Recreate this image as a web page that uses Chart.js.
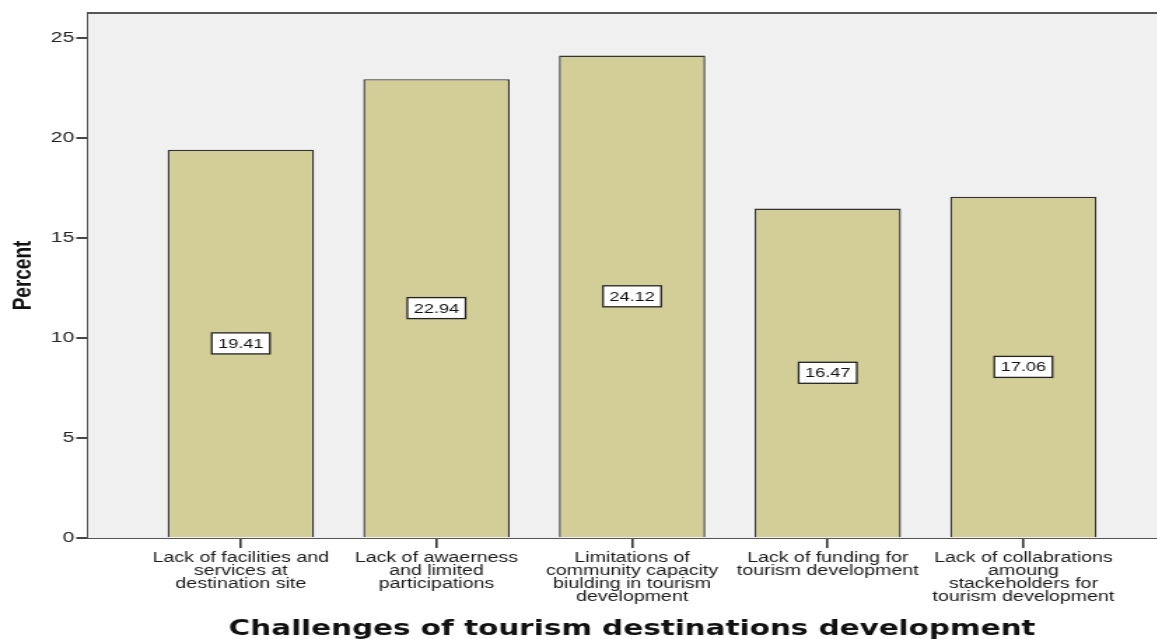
<!DOCTYPE html>
<html><head><meta charset="utf-8">
<script src="https://cdn.jsdelivr.net/npm/chart.js@4.4.1/dist/chart.umd.min.js"></script>
<style>
html,body{margin:0;padding:0;background:#fff;overflow:hidden;width:1157px;height:639px}
#wrap{width:840px;height:639px;transform:scaleX(1.4);transform-origin:0 0}
</style>
</head><body><div id="wrap"><canvas id="c"></canvas></div>
<script>
const categories = [
  ["Lack of facilities and","services at","destination site"],
  ["Lack of awaerness","and limited","participations"],
  ["Limitations of","community capacity","biulding in tourism","development"],
  ["Lack of funding for","tourism development"],
  ["Lack of collabrations","amoung","stackeholders for","tourism development"]
];
const percents = [19.41, 22.94, 24.12, 16.47, 17.06];
const yTicks = [0, 5, 10, 15, 20, 25];

const points = percents.map((v, i) => ({x: i, y: v}));

const frame = {
  id: 'frame',
  beforeDatasetsDraw(chart) {
    const {ctx, chartArea: a} = chart;
    ctx.save();
    ctx.fillStyle = '#f0f0f0';
    ctx.fillRect(a.left, a.top, a.right - a.left, a.bottom - a.top);
    ctx.strokeStyle = '#555';
    ctx.lineWidth = 2;
    ctx.beginPath(); ctx.moveTo(a.left, a.top); ctx.lineTo(a.right, a.top); ctx.stroke();
    ctx.restore();
  },
  afterDatasetsDraw(chart) {
    const {ctx} = chart;
    const meta = chart.getDatasetMeta(0);
    ctx.save();
    ctx.font = '13px "Liberation Sans", Arial, sans-serif';
    ctx.textAlign = 'center'; ctx.textBaseline = 'middle';
    meta.data.forEach((bar, i) => {
      const txt = percents[i].toFixed(2);
      const cx = bar.x, cy = (bar.y + bar.base) / 2;
      const w = ctx.measureText(txt).width + 9, h = 21;
      ctx.fillStyle = '#fff';
      ctx.fillRect(cx - w/2, cy - h/2, w, h);
      ctx.strokeStyle = '#222'; ctx.lineWidth = 1.3;
      ctx.strokeRect(cx - w/2, cy - h/2, w, h);
      ctx.fillStyle = '#111';
      ctx.fillText(txt, cx, cy + 1);
    });
    ctx.restore();
  }
};

new Chart(document.getElementById('c'), {
  type: 'bar',
  data: {
    datasets: [{
      data: points,
      backgroundColor: '#d3ce97',
      borderColor: '#333',
      borderWidth: 1.4,
      barPercentage: 0.86,
      categoryPercentage: 0.87
    }]
  },
  options: {
    responsive: true,
    maintainAspectRatio: false,
    animation: false,
    layout: {padding: {left: 0, right: 0, top: 13, bottom: 0}},
    plugins: {legend: {display: false}, tooltip: {enabled: false}},
    scales: {
      x: {
        type: 'linear',
        offset: false,
        min: -0.78,
        max: 4.78,
        afterBuildTicks(s) { s.ticks = categories.map((_, i) => ({value: i})); },
        afterFit(s) { s.height = 101; },
        ticks: {
          autoSkip: false,
          maxRotation: 0,
          padding: 4,
          color: '#1a1a1a',
          font: {family: '"Liberation Sans", Arial, sans-serif', size: 14, lineHeight: 0.93},
          callback: (v) => categories[v] || ''
        },
        grid: {display: true, offset: false, drawOnChartArea: false, drawTicks: true, tickLength: 10, color: '#333', lineWidth: 1.6},
        border: {color: '#555', width: 2},
        title: {
          display: true,
          text: 'Challenges of tourism destinations development',
          color: '#111',
          font: {family: '"DejaVu Sans", Verdana, sans-serif', size: 21, weight: 'bold'},
          padding: {top: 0, bottom: -3}
        }
      },
      y: {
        min: 0,
        max: 26.25,
        afterBuildTicks(s) { s.ticks = yTicks.map(v => ({value: v})); },
        afterFit(s) { s.width = 63; },
        ticks: {
          color: '#222',
          padding: 1.5,
          font: {family: '"Liberation Sans", Arial, sans-serif', size: 15}
        },
        grid: {drawOnChartArea: false, drawTicks: true, tickLength: 8.5, color: '#444', lineWidth: 2},
        border: {color: '#555', width: 1.6},
        title: {
          display: true,
          text: 'Percent',
          color: '#111',
          font: {family: '"Liberation Sans", Arial, sans-serif', size: 19, weight: 'bold'},
          padding: {top: 5, bottom: 0}
        }
      }
    }
  },
  plugins: [frame]
});
</script></body></html>
